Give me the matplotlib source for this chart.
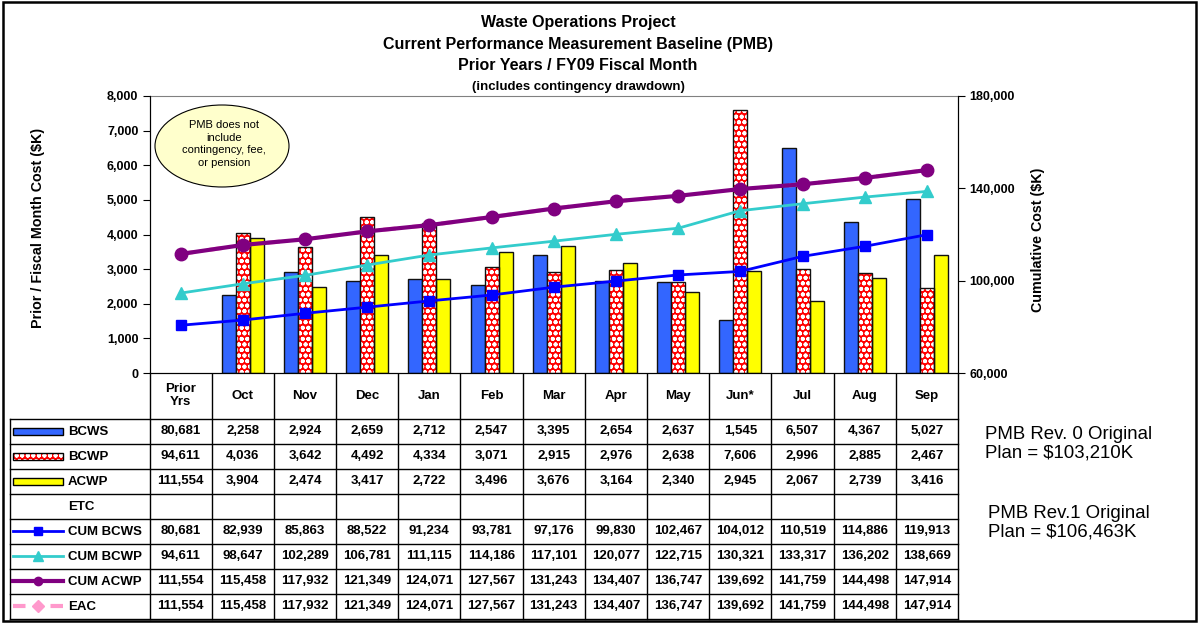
import numpy as np
import matplotlib
matplotlib.use('Agg')
import matplotlib.pyplot as plt
from matplotlib.patches import Rectangle, Ellipse
from matplotlib.lines import Line2D

plt.rcParams['font.family'] = ['Liberation Sans', 'DejaVu Sans']
plt.rcParams['hatch.linewidth'] = 1.3

# data
categories = ['Prior\nYrs', 'Oct', 'Nov', 'Dec', 'Jan', 'Feb', 'Mar', 'Apr',
              'May', 'Jun*', 'Jul', 'Aug', 'Sep']
bcws = [80681, 2258, 2924, 2659, 2712, 2547, 3395, 2654, 2637, 1545, 6507, 4367, 5027]
bcwp = [94611, 4036, 3642, 4492, 4334, 3071, 2915, 2976, 2638, 7606, 2996, 2885, 2467]
acwp = [111554, 3904, 2474, 3417, 2722, 3496, 3676, 3164, 2340, 2945, 2067, 2739, 3416]
etc = [None] * 13
cum_bcws = [80681, 82939, 85863, 88522, 91234, 93781, 97176, 99830, 102467, 104012,
            110519, 114886, 119913]
cum_bcwp = [94611, 98647, 102289, 106781, 111115, 114186, 117101, 120077, 122715,
            130321, 133317, 136202, 138669]
cum_acwp = [111554, 115458, 117932, 121349, 124071, 127567, 131243, 134407, 136747,
            139692, 141759, 144498, 147914]
eac = [111554, 115458, 117932, 121349, 124071, 127567, 131243, 134407, 136747,
       139692, 141759, 144498, 147914]

left_ticks = [0, 1000, 2000, 3000, 4000, 5000, 6000, 7000, 8000]
right_ticks = [60000, 100000, 140000, 180000]

W, H = 1199, 623
fig = plt.figure(figsize=(W / 100, H / 100), dpi=100)

# pixel layout
px_l, px_r, px_t, px_b = 149.5, 958, 96, 373
def fx(x):
    return x / W
def fy(y):
    return 1 - y / H

ax = fig.add_axes([fx(px_l), fy(px_b), fx(px_r - px_l), (px_b - px_t) / H])
ax2 = ax.twinx()

n = len(categories)
x = np.arange(n)
bw = 0.225
months = x[1:]

BLUE = '#3366FF'
RED = '#FF0000'
YELLOW = '#FFFF00'

ax.bar(months - bw, bcws[1:], bw, color=BLUE, edgecolor='#111111', linewidth=1.0, zorder=2)
ax.bar(months, bcwp[1:], bw, color=RED, edgecolor='white', hatch='ooo', linewidth=0, zorder=2)
ax.bar(months, bcwp[1:], bw, fill=False, edgecolor='#111111', linewidth=1.0, zorder=3)
ax.bar(months + bw, acwp[1:], bw, color=YELLOW, edgecolor='#111111', linewidth=1.0, zorder=2)

ax.set_xlim(-0.5, n - 0.5)
ax.set_ylim(0, 8000)
ax.set_yticks(left_ticks)
ax.set_yticklabels([f'{v:,}' for v in left_ticks], fontsize=9, fontweight='bold')
ax.set_xticks([])
ax.tick_params(axis='y', direction='out', length=5, width=0.8, pad=3)
ax.spines['top'].set_color('#808080')
ax.spines['top'].set_linewidth(0.8)

ax2.plot(x, eac, color='#FF99CC', lw=3, ls=(0, (3, 4)), marker='D', ms=6, zorder=1)
ax2.plot(x, cum_bcws, color='#0000FF', lw=2, marker='s', ms=7, zorder=3)
ax2.plot(x, cum_bcwp, color='#33CCCC', lw=2, marker='^', ms=8.5, zorder=3)
ax2.plot(x, cum_acwp, color='#800080', lw=3, marker='o', ms=9, zorder=4)
ax2.set_ylim(60000, 180000)
ax2.set_yticks(right_ticks)
ax2.set_yticklabels([f'{v:,}' for v in right_ticks], fontsize=9, fontweight='bold')
ax2.tick_params(axis='y', direction='out', length=5, width=0.8, pad=3)
ax2.spines['top'].set_visible(False)
ax2.set_xlim(-0.5, n - 0.5)

# overlay in pixel coords for title, table and notes
ov = fig.add_axes([0, 0, 1, 1], zorder=-1)
ov.set_xlim(0, W)
ov.set_ylim(H, 0)
ov.axis('off')
ov2 = fig.add_axes([0, 0, 1, 1], zorder=5)
ov2.set_xlim(0, W)
ov2.set_ylim(H, 0)
ov2.axis('off')
ov2.patch.set_alpha(0)

ov.add_patch(Rectangle((3, 2), W - 6, H - 4, fill=False, edgecolor='black', lw=1.8))

tx = 578
for txt, yy, fs in [('Waste Operations Project', 23, 11.5),
                    ('Current Performance Measurement Baseline (PMB)', 45, 11.5),
                    ('Prior Years / FY09 Fiscal Month', 66, 11.5),
                    ('(includes contingency drawdown)', 87, 9.5)]:
    ov.text(tx, yy, txt, ha='center', va='center', fontsize=fs, fontweight='bold')

ov.text(38, 228, 'Prior / Fiscal Month Cost ($K)', rotation=90, ha='center', va='center',
        fontsize=10.3, fontweight='bold')
ov.text(1038, 240, 'Cumulative Cost ($K)', rotation=90, ha='center', va='center',
        fontsize=10.3, fontweight='bold')

ov2.add_patch(Ellipse((222, 146), 134, 82, facecolor='#FFFFCC', edgecolor='black', lw=0.8))
ov2.text(224, 144, 'PMB does not\ninclude\ncontingency, fee,\nor pension', ha='center',
         va='center', fontsize=8, linespacing=1.3)

# data table
col_w = (px_r - px_l) / n
row_top = 418.5
row_h = 25
tbl_left = 10
rows = [('BCWS', bcws), ('BCWP', bcwp), ('ACWP', acwp), ('ETC', etc),
        ('CUM BCWS', cum_bcws), ('CUM BCWP', cum_bcwp), ('CUM ACWP', cum_acwp), ('EAC', eac)]
tbl_bottom = row_top + row_h * len(rows)
lk = dict(color='black', lw=1.0)
for k in range(n + 1):
    xx = px_l + k * col_w
    ov.add_line(Line2D([xx, xx], [px_b, tbl_bottom], **lk))
for r in range(len(rows) + 1):
    yy = row_top + r * row_h
    ov.add_line(Line2D([tbl_left, px_r], [yy, yy], **lk))
ov.add_line(Line2D([tbl_left, tbl_left], [row_top, tbl_bottom], **lk))

for k, cat in enumerate(categories):
    ov.text(px_l + (k + 0.5) * col_w, (px_b + row_top) / 2, cat, ha='center', va='center',
            fontsize=9.5, fontweight='bold', linespacing=1.15)

for r, (name, vals) in enumerate(rows):
    yc = row_top + (r + 0.5) * row_h
    ov.text(68, yc + 1, name, ha='left', va='center', fontsize=9.5, fontweight='bold')
    for k, v in enumerate(vals):
        if v is None:
            continue
        ov.text(px_l + (k + 0.5) * col_w, yc, f'{v:,}', ha='center', va='center',
                fontsize=9.5, fontweight='bold')

# legend keys in the table
def key_rect(r, **kw):
    yc = row_top + (r + 0.5) * row_h
    ov2.add_patch(Rectangle((13, yc - 3), 50, 7, **kw))

key_rect(0, facecolor=BLUE, edgecolor='black', lw=1)
key_rect(1, facecolor=RED, edgecolor='white', hatch='ooo', lw=0)
key_rect(1, fill=False, edgecolor='black', lw=1)
key_rect(2, facecolor=YELLOW, edgecolor='black', lw=1)

def key_line(r, **kw):
    yc = row_top + (r + 0.5) * row_h
    ov2.plot([13, 38, 63], [yc, yc, yc], markevery=[1], **kw)

key_line(4, color='#0000FF', lw=2, marker='s', ms=6)
key_line(5, color='#33CCCC', lw=2, marker='^', ms=7)
key_line(6, color='#800080', lw=3, marker='o', ms=6)
key_line(7, color='#FF99CC', lw=3, ls=(0, (3, 6)), marker='D', ms=6)

ov.text(985, 444, 'PMB Rev. 0 Original\nPlan = $103,210K', ha='left', va='center',
        fontsize=13.4, linespacing=1.1)
ov.text(988, 523, 'PMB Rev.1 Original\nPlan = $106,463K', ha='left', va='center',
        fontsize=13.4, linespacing=1.1)

fig.savefig('out.png', dpi=100)
